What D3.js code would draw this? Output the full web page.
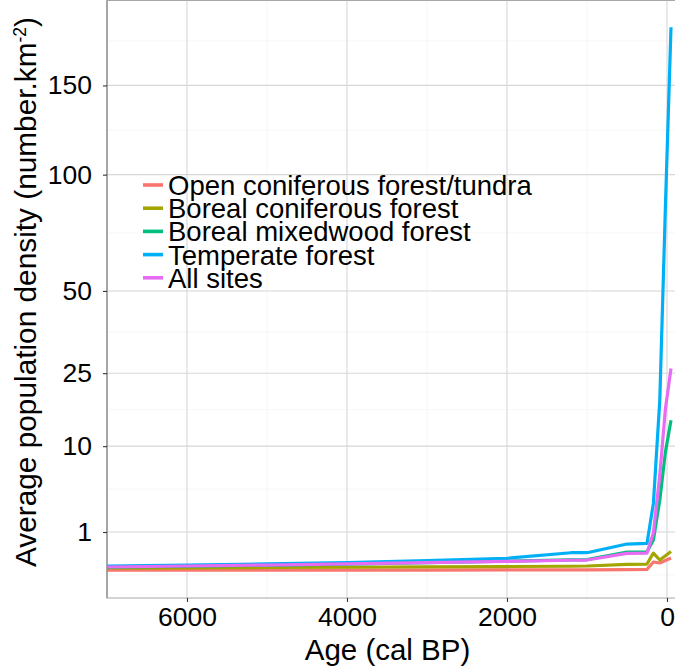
<!DOCTYPE html>
<html>
<head>
<meta charset="utf-8">
<script src="https://cdn.jsdelivr.net/npm/d3@7"></script>
<style>
  body { margin: 0; background: #fff; }
  text { font-family: "Liberation Sans", Arial, Helvetica, sans-serif; fill: #000; }
</style>
</head>
<body>
<div id="chart"></div>
<script>
(function() {

  let width  = 675,
      height = 668;

  // ages (cal BP)
  let ages = [7000, 6000, 5000, 4000, 3000, 2000, 1200, 1000, 500, 250, 170, 90, 20, -50];

  // series values, population density (number.km-2)
  let openConiferous   = [0.0014, 0.0015, 0.0016, 0.0017, 0.0018, 0.0020, 0.0022, 0.0023, 0.0030, 0.0036, 0.060, 0.048, 0.079, 0.119];
  let borealConiferous = [0.0087, 0.0096, 0.0112, 0.0128, 0.0146, 0.0171, 0.0190, 0.0206, 0.0347, 0.0375, 0.221, 0.087, 0.161, 0.258];
  let borealMixedwood  = [0.0130, 0.0190, 0.0260, 0.0370, 0.0520, 0.0710, 0.0880, 0.0940, 0.246, 0.253, 0.64, 3.26, 9.07, 14.57];
  let temperate        = [0.0206, 0.0284, 0.0395, 0.0536, 0.0794, 0.114, 0.229, 0.229, 0.486, 0.511, 2.96, 18.67, 84.3, 188];
  let allSites         = [0.0140, 0.0206, 0.0284, 0.0395, 0.0536, 0.0685, 0.0837, 0.0867, 0.214, 0.221, 0.95, 5.9, 16.8, 26.2];

  let seriesNames  = ["Open coniferous forest/tundra", "Boreal coniferous forest", "Boreal mixedwood forest", "Temperate forest", "All sites"];
  let seriesValues = [openConiferous, borealConiferous, borealMixedwood, temperate, allSites];
  let colors       = ["#F8766D", "#A3A500", "#00BF7D", "#00B0F6", "#E76BF3"];

  let xTicks = [6000, 4000, 2000, 0];
  let xMinor = [7000, 5000, 3000, 1000];
  let yTicks = [1, 10, 25, 50, 100, 150];

  // panel box
  let left = 107, right = 680, top = 0.5, bottom = 598;

  let svg = d3.select('#chart')
    .append ("svg")
    .attr   ("width", width)
    .attr   ("height", height);

  // x is reversed (age), y is square-root
  let x = d3.scaleLinear()
    .domain ([7000, -112.5])
    .range  ([left, 676]);

  let y = d3.scaleSqrt()
    .domain ([-0.438, 206.96])
    .range  ([bottom, top]);

  // minor y breaks sit half way between majors in sqrt space
  let sq = (v) => v < 0 ? -v * v : v * v;
  let yS = yTicks.map(Math.sqrt);
  let yMinor = [];
  yMinor.push(sq(yS[0] - (yS[1] - yS[0]) / 2));
  for (let i = 0; i < yS.length - 1; i++) yMinor.push(sq((yS[i] + yS[i + 1]) / 2));
  yMinor.push(sq(yS[yS.length - 1] + (yS[yS.length - 1] - yS[yS.length - 2]) / 2));

  let grid = svg.append("g");

  grid.selectAll(".xminor")
    .data  (xMinor)
    .enter ().append("line")
    .attr  ("x1", (d) => x(d)).attr("x2", (d) => x(d))
    .attr  ("y1", top).attr("y2", bottom)
    .attr  ("stroke", "#f0f0f0")
    .attr  ("stroke-width", 0.6);

  grid.selectAll(".yminor")
    .data  (yMinor)
    .enter ().append("line")
    .attr  ("x1", left).attr("x2", right)
    .attr  ("y1", (d) => y(d)).attr("y2", (d) => y(d))
    .attr  ("stroke", "#f0f0f0")
    .attr  ("stroke-width", 0.6);

  grid.selectAll(".xmajor")
    .data  (xTicks)
    .enter ().append("line")
    .attr  ("x1", (d) => x(d)).attr("x2", (d) => x(d))
    .attr  ("y1", top).attr("y2", bottom)
    .attr  ("stroke", "#d6d6d6")
    .attr  ("stroke-width", 1.1);

  grid.selectAll(".ymajor")
    .data  (yTicks)
    .enter ().append("line")
    .attr  ("x1", left).attr("x2", right)
    .attr  ("y1", (d) => y(d)).attr("y2", (d) => y(d))
    .attr  ("stroke", "#d6d6d6")
    .attr  ("stroke-width", 1.1);

  // series lines
  let line = d3.line()
    .x ((d) => x(d[0]))
    .y ((d) => y(d[1]));

  svg.append("g")
    .selectAll("path")
    .data  (seriesValues)
    .enter ().append("path")
    .attr  ("d", (vals) => line(ages.map((a, i) => [a, vals[i]])))
    .attr  ("fill", "none")
    .attr  ("stroke", (d, i) => colors[i])
    .attr  ("stroke-width", 3.2)
    .attr  ("stroke-linejoin", "round");

  // panel border
  svg.append("rect")
    .attr  ("x", left).attr("y", top)
    .attr  ("width", right - left).attr("height", bottom - top)
    .attr  ("fill", "none")
    .attr  ("stroke", "#a8a8a8")
    .attr  ("stroke-width", 1);

  svg.append("line")
    .attr  ("x1", left).attr("x2", left)
    .attr  ("y1", top).attr("y2", bottom)
    .attr  ("stroke", "#888")
    .attr  ("stroke-width", 1.2);

  // axes
  let xAxis = svg.append("g")
    .attr ("transform", `translate(0,${bottom})`)
    .call (d3.axisBottom(x).tickValues(xTicks).tickSize(4).tickPadding(5).tickFormat(d3.format("d")));

  let yAxis = svg.append("g")
    .attr ("transform", `translate(${left},0)`)
    .call (d3.axisLeft(y).tickValues(yTicks).tickSize(4).tickPadding(11).tickFormat(d3.format("d")));

  [xAxis, yAxis].forEach((g) => {
    g.select(".domain").remove();
    g.selectAll(".tick line").attr("stroke", "#333").attr("stroke-width", 1.1);
    g.selectAll(".tick text")
      .attr  ("fill", "#000")
      .style ("font-family", '"Liberation Sans", Arial, sans-serif')
      .style ("font-size", "26.5px");
  });

  // axis titles
  svg.append("text")
    .attr  ("x", (left + 676) / 2 - 4)
    .attr  ("y", 660)
    .attr  ("text-anchor", "middle")
    .style ("font-size", "29.5px")
    .text  ("Age (cal BP)");

  let yTitle = svg.append("text")
    .attr  ("transform", `translate(36,292) rotate(-90)`)
    .attr  ("text-anchor", "middle")
    .style ("font-size", "29.8px");
  yTitle.append("tspan").text("Average population density (number.km");
  yTitle.append("tspan").attr("baseline-shift", "super").style("font-size", "17.5px").text("-2");
  yTitle.append("tspan").text(")");

  // legend inside the panel
  let legend = svg.append("g")
    .selectAll("g")
    .data  (seriesNames)
    .enter ().append("g")
    .attr  ("transform", (d, i) => `translate(143,${185 + i * 23.2})`);

  legend.append("line")
    .attr  ("x1", 0).attr("x2", 20)
    .attr  ("stroke", (d, i) => colors[i])
    .attr  ("stroke-width", 3.6);

  legend.append("text")
    .attr  ("x", 25)
    .attr  ("dy", "0.36em")
    .style ("font-size", "27.5px")
    .text  ((d) => d);

})();
</script>
</body>
</html>
